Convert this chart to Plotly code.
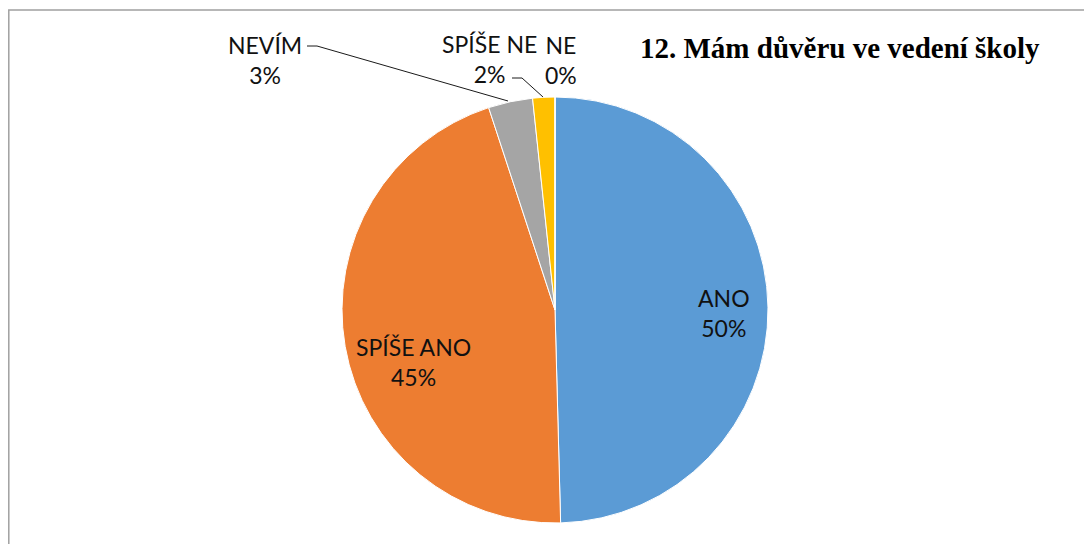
import plotly.graph_objects as go

# odpovedi (pocty respondentu)
labels = ["ANO", "SPÍŠE ANO", "NEVÍM", "SPÍŠE NE", "NE"]
values = [59, 54, 4, 2, 0]
colors = ["#5B9BD5", "#ED7D31", "#A5A5A5", "#FFC000", "#4472C4"]
title = "12. Mám důvěru ve vedení školy"

W, H = 1092, 544
OFF = 8  # stranka ma okraj ~8px, posuneme vse zpet
total = sum(values)
pct = [round(v / total * 100) for v in values]

def px(x, y):
    return (x - OFF) / W, 1 - (y - OFF) / H

cx, cy, r = 555, 310, 213
x0, y1 = px(cx - r, cy - r)
x1, y0 = px(cx + r, cy + r)

fig = go.Figure()
fig.add_trace(go.Pie(
    labels=labels, values=values, textinfo="none",
    sort=False, direction="clockwise", rotation=0,
    marker=dict(colors=colors, line=dict(color="white", width=1)),
    domain=dict(x=[x0, x1], y=[y0, y1]),
    showlegend=False, hoverinfo="label+percent",
))

lab_font = dict(family="Lato, Carlito, sans-serif", size=23, color="#111111")
# pozice popisku (stred textu) v pixelech obrazku
label_pos = [(724, 313), (413, 362), (265, 60), (489, 59), (561, 60)]
annotations = []
for i, (x, y) in enumerate(label_pos):
    ax, ay = px(x, y)
    annotations.append(dict(x=ax, y=ay, xref="paper", yref="paper", showarrow=False,
                            xanchor="center", yanchor="middle",
                            text=f"{labels[i]}<br>{pct[i]}%", align="center", font=lab_font))
tx, ty = px(1042, 48)
annotations.append(dict(x=tx, y=ty, xref="paper", yref="paper", showarrow=False,
                        xanchor="right", yanchor="middle", text=f"<b>{title}</b>",
                        font=dict(family="Liberation Serif, Times New Roman, serif", size=29, color="black")))

def path(points):
    pts = [px(x, y) for x, y in points]
    return "M " + " L ".join(f"{a},{b}" for a, b in pts)

_, by = px(6, 10)
shapes = [
    dict(type="path", xref="paper", yref="paper", path=path([(307, 46), (317, 46), (508, 101)]),
         line=dict(color="#1a1a1a", width=1)),
    dict(type="path", xref="paper", yref="paper", path=path([(512, 78), (522, 78), (543, 97)]),
         line=dict(color="#1a1a1a", width=1)),
    dict(type="rect", xref="paper", yref="paper", x0=0.8 / W, y0=-0.1, x1=1.1, y1=by,
         line=dict(color="#A0A0A0", width=1.5)),
]

fig.update_layout(
    width=W, height=H, margin=dict(l=0, r=0, t=0, b=0),
    paper_bgcolor="white", plot_bgcolor="white",
    annotations=annotations, shapes=shapes,
)
fig.write_html("out.html")
